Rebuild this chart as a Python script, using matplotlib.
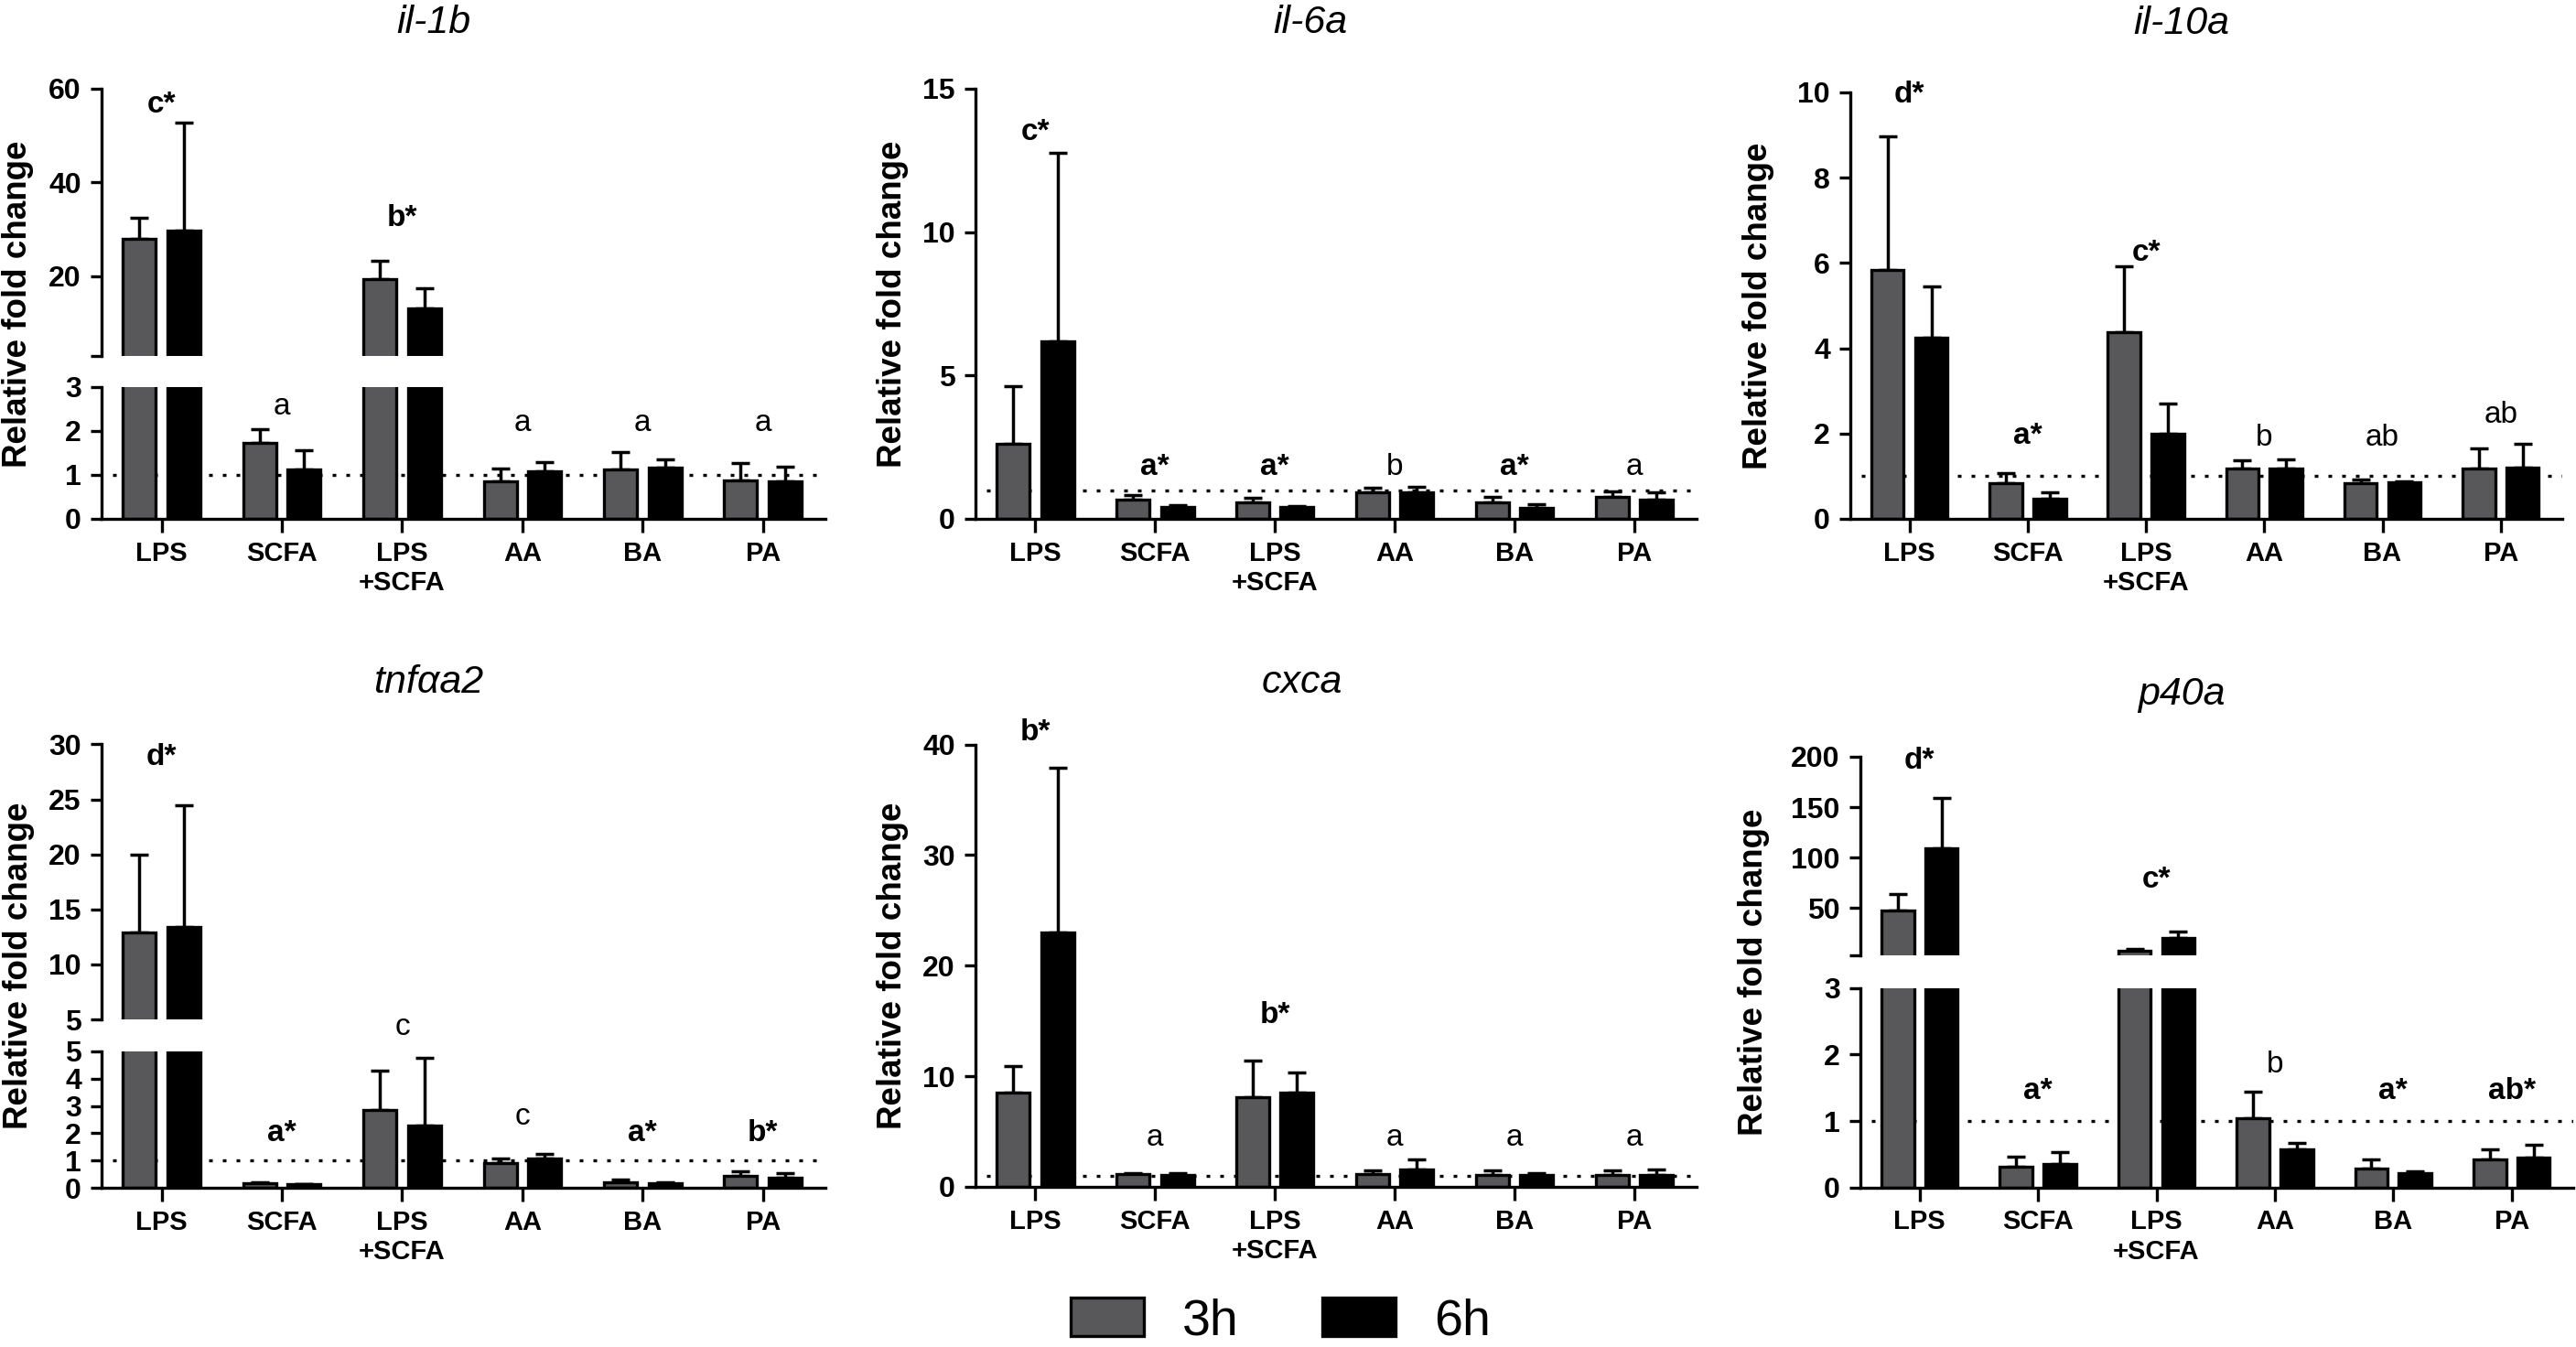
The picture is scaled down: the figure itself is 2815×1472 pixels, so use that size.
import numpy as np
import matplotlib
matplotlib.use('Agg')
import matplotlib.pyplot as plt

plt.rcParams['font.family'] = ['Liberation Sans', 'DejaVu Sans']

# ---- data -----------------------------------------------------------------
groups = ['LPS', 'SCFA', 'LPS\n+SCFA', 'AA', 'BA', 'PA']
genes = ['il-1b', 'il-6a', 'il-10a', 'tnfαa2', 'cxca', 'p40a']

il1b_3h = [28.0, 1.73, 19.3, 0.86, 1.12, 0.88]
il1b_3h_sd = [4.5, 0.32, 4.0, 0.29, 0.40, 0.39]
il1b_6h = [29.8, 1.13, 13.2, 1.08, 1.17, 0.86]
il1b_6h_sd = [23.0, 0.44, 4.2, 0.21, 0.18, 0.33]
il1b_letters = ['c*', 'a', 'b*', 'a', 'a', 'a']
il1b_letter_y = [55.0, 2.38, 30.7, 1.99, 1.99, 1.99]

il6a_3h = [2.62, 0.67, 0.57, 0.91, 0.57, 0.76]
il6a_3h_sd = [2.0, 0.15, 0.16, 0.17, 0.19, 0.21]
il6a_6h = [6.2, 0.42, 0.40, 0.92, 0.38, 0.67]
il6a_6h_sd = [6.58, 0.06, 0.06, 0.19, 0.13, 0.25]
il6a_letters = ['c*', 'a*', 'a*', 'b', 'a*', 'a']
il6a_letter_y = [13.2, 1.53, 1.53, 1.53, 1.53, 1.53]

il10a_3h = [5.83, 0.83, 4.38, 1.17, 0.83, 1.17]
il10a_3h_sd = [3.15, 0.25, 1.54, 0.21, 0.10, 0.48]
il10a_6h = [4.24, 0.47, 1.99, 1.19, 0.86, 1.21]
il10a_6h_sd = [1.21, 0.15, 0.72, 0.21, 0.03, 0.54]
il10a_letters = ['d*', 'a*', 'c*', 'b', 'ab', 'ab']
il10a_letter_y = [9.77, 1.76, 6.05, 1.72, 1.72, 2.25]

tnf_3h = [12.9, 0.16, 2.84, 0.92, 0.20, 0.42]
tnf_3h_sd = [7.1, 0.04, 1.46, 0.14, 0.09, 0.18]
tnf_6h = [13.4, 0.12, 2.28, 1.06, 0.16, 0.36]
tnf_6h_sd = [11.1, 0.03, 2.48, 0.19, 0.04, 0.17]
tnf_letters = ['d*', 'a*', 'c', 'c', 'a*', 'b*']
tnf_letter_y = [28.1, 1.71, 5.62, 2.31, 1.71, 1.71]

cxca_3h = [8.5, 1.14, 8.07, 1.14, 1.11, 1.05]
cxca_3h_sd = [2.4, 0.10, 3.33, 0.33, 0.36, 0.42]
cxca_6h = [23.0, 1.10, 8.5, 1.57, 1.11, 1.05]
cxca_6h_sd = [14.9, 0.14, 1.8, 0.88, 0.13, 0.52]
cxca_letters = ['b*', 'a', 'b*', 'a', 'a', 'a']
cxca_letter_y = [40.4, 3.76, 14.8, 3.76, 3.76, 3.76]

p40a_3h = [47.9, 0.32, 7.9, 1.04, 0.28, 0.42]
p40a_3h_sd = [16.0, 0.14, 1.7, 0.40, 0.15, 0.16]
p40a_6h = [109.6, 0.35, 20.0, 0.58, 0.22, 0.45]
p40a_6h_sd = [49.3, 0.19, 6.4, 0.09, 0.02, 0.19]
p40a_letters = ['d*', 'a*', 'c*', 'b', 'a*', 'ab*']
p40a_letter_y = [188, 1.33, 70, 1.73, 1.33, 1.33]

series = [
    (il1b_3h, il1b_3h_sd, il1b_6h, il1b_6h_sd, il1b_letters, il1b_letter_y),
    (il6a_3h, il6a_3h_sd, il6a_6h, il6a_6h_sd, il6a_letters, il6a_letter_y),
    (il10a_3h, il10a_3h_sd, il10a_6h, il10a_6h_sd, il10a_letters, il10a_letter_y),
    (tnf_3h, tnf_3h_sd, tnf_6h, tnf_6h_sd, tnf_letters, tnf_letter_y),
    (cxca_3h, cxca_3h_sd, cxca_6h, cxca_6h_sd, cxca_letters, cxca_letter_y),
    (p40a_3h, p40a_3h_sd, p40a_6h, p40a_6h_sd, p40a_letters, p40a_letter_y),
]

# ---- layout (pixels in the 2815x1472 picture) -----------------------------
W, H = 2815, 1472
# x range, list of segments (top_px, bottom_px, ymin, ymax, ticks, ticklabels)
layout = [
    dict(x=(111, 902), title=(474, 36), ylab=20,
         segs=[(423, 567, 0, 3, [0, 1, 2, 3], None),
               (97, 389, 3, 60, [3, 20, 40, 60], ['', '20', '40', '60'])]),
    dict(x=(1066, 1854), title=(1432, 36), ylab=976,
         segs=[(97, 567, 0, 15, [0, 5, 10, 15], None)]),
    dict(x=(2022, 2800), title=(2384, 37), ylab=1922,
         segs=[(101, 567, 0, 10, [0, 2, 4, 6, 8, 10], None)]),
    dict(x=(111, 902), title=(468, 757), ylab=21,
         segs=[(1149, 1298, 0, 5, [0, 1, 2, 3, 4, 5], None),
               (813.5, 1114, 5, 30, [5, 10, 15, 20, 25, 30], None)]),
    dict(x=(1066, 1854), title=(1423, 757), ylab=976,
         segs=[(813.5, 1297, 0, 40, [0, 10, 20, 30, 40], None)]),
    dict(x=(2033, 2812), title=(2384, 770), ylab=1916,
         segs=[(1079.6, 1297.8, 0, 3, [0, 1, 2, 3], None),
               (827, 1044, 3, 200, [3, 50, 100, 150, 200], ['', '50', '100', '150', '200'])]),
]

GRAY = '#58585b'
WID = 0.275
OFF = 0.185
LW = 2.4

fig = plt.figure(figsize=(W / 100, H / 100), dpi=100)


def rect(x0, x1, top, bottom):
    return [x0 / W, 1 - bottom / H, (x1 - x0) / W, (bottom - top) / H]


def draw_series(ax, xpos, means, sds, color, ymin, upper):
    means = np.asarray(means)
    sds = np.asarray(sds)
    # in the upper part of a broken axis only the bars that reach it are drawn
    keep = means > ymin if upper else np.ones(len(means), bool)
    bars = ax.bar(xpos[keep], means[keep], WID, color=color, edgecolor='black',
                  linewidth=2.4, zorder=2)
    ax.errorbar(xpos[keep], means[keep], yerr=[np.zeros(keep.sum()), sds[keep]],
                fmt='none', ecolor='black', elinewidth=2.5, capsize=7,
                capthick=2.5, zorder=1.9)
    return bars


handles = None
for gene, lay, (m3, s3, m6, s6, letters, ly) in zip(genes, layout, series):
    x = np.arange(len(groups))
    axes = []
    for k, (top, bottom, y0, y1, ticks, tlabels) in enumerate(lay['segs']):
        ax = fig.add_axes(rect(lay['x'][0], lay['x'][1], top, bottom))
        ax.set_xlim(-0.5, 5.52)
        ax.set_ylim(y0, y1)
        for sp in ['top', 'right']:
            ax.spines[sp].set_visible(False)
        ax.spines['left'].set_linewidth(LW)
        ax.spines['bottom'].set_linewidth(LW)
        ax.patch.set_visible(False)

        b3 = draw_series(ax, x - OFF, m3, s3, GRAY, y0, k > 0)
        b6 = draw_series(ax, x + OFF, m6, s6, 'black', y0, k > 0)
        if handles is None:
            handles = [b3, b6]

        ax.set_yticks(ticks)
        if tlabels is not None:
            ax.set_yticklabels(tlabels)
        ax.tick_params(axis='y', length=9, width=LW, pad=7, labelsize=23)
        for t in ax.get_yticklabels():
            t.set_fontweight('bold')

        if k == 0:
            ax.axhline(1, xmin=0.015, xmax=1, color='black', lw=2.4,
                       linestyle=(0, (1.2, 3.3)), zorder=1.5)
            ax.set_xticks(x)
            ax.set_xticklabels(groups, fontsize=21, fontweight='bold')
            ax.tick_params(axis='x', length=10.5, width=LW, pad=6.5)
        else:
            ax.spines['bottom'].set_visible(False)
            ax.set_xticks([])
        axes.append(ax)

    # significance letters
    lower_top = lay['segs'][0][3]
    for i, (lab, h) in enumerate(zip(letters, ly)):
        tgt = axes[1] if (len(axes) > 1 and h > 1.5 * lower_top) else axes[0]
        tgt.text(i, h, lab, ha='center', va='baseline', fontsize=24,
                 fontweight='bold' if '*' in lab else 'normal')

    tops = [s[0] for s in lay['segs']]
    bots = [s[1] for s in lay['segs']]
    yc = (min(tops) + max(bots)) / 2
    fig.text(lay['ylab'] / W, 1 - yc / H, 'Relative fold change', rotation=90,
             ha='center', va='center', fontsize=26.5, fontweight='bold')
    fig.text(lay['title'][0] / W, 1 - lay['title'][1] / H, gene, ha='center',
             va='baseline', fontsize=31, style='italic')

fig.legend(handles, ['3h', '6h'], loc='lower left', bbox_to_anchor=(1170 / W, 0.001),
           ncol=2, frameon=False, fontsize=40, borderpad=0, borderaxespad=0,
           handlelength=1.44, handleheight=0.8, handletextpad=0.75, columnspacing=1.65)

fig.savefig('out.png', dpi=100)
